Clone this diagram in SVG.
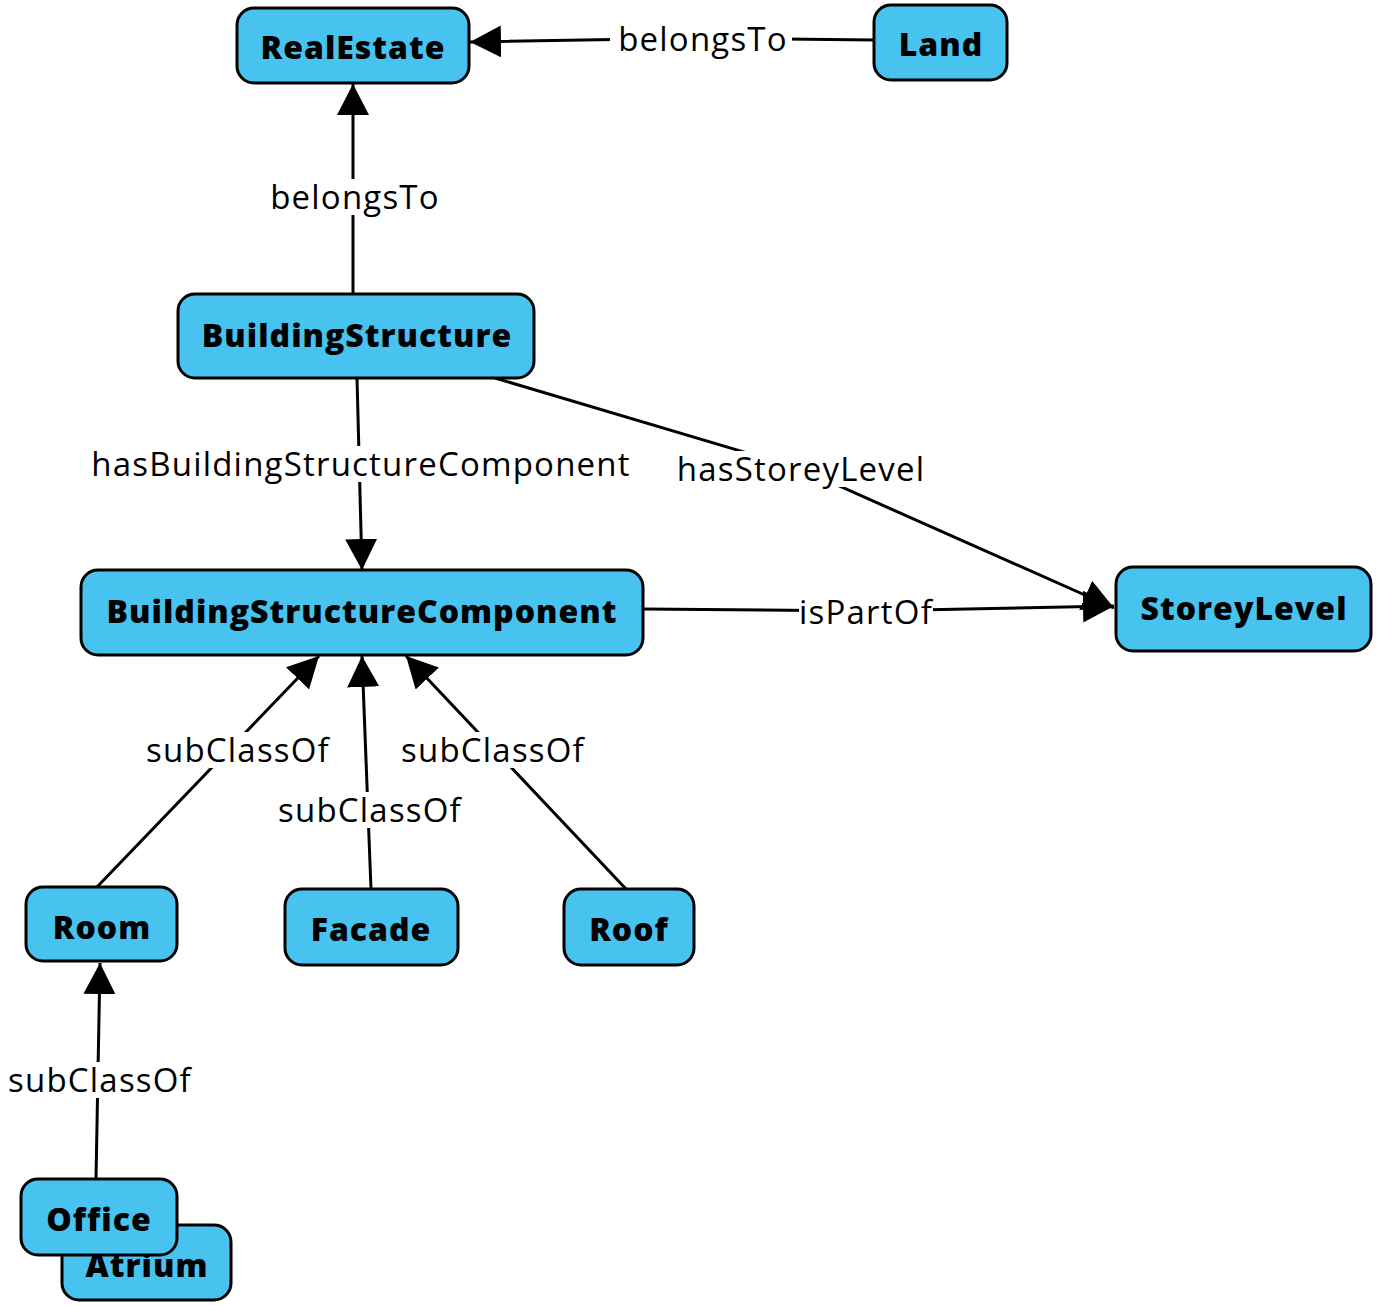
<svg xmlns="http://www.w3.org/2000/svg" width="1379" height="1306" viewBox="0 0 1379 1306">
  <defs>
    <marker id="arrow" markerUnits="userSpaceOnUse" markerWidth="32" markerHeight="34" refX="31" refY="16" orient="auto">
      <path d="M0,0 L31,16 L0,32 Z" fill="#000"/>
    </marker>
    <style>
      .node rect { fill: #48c3f0; stroke: #000; stroke-width: 3; }
      .node text { font-family: "Open Sans", "Noto Sans", "Liberation Sans", sans-serif; font-weight: 800; font-size: 32px; letter-spacing: 1px; fill: #000; text-anchor: middle; dominant-baseline: central; }
      .edge line, .edge polyline { fill: none; stroke: #000; stroke-width: 3; marker-end: url(#arrow); }
      .lbl rect { fill: #fff; }
      .lbl text { font-family: "Open Sans", "Noto Sans", "Liberation Sans", sans-serif; font-size: 33px; letter-spacing: 1.2px; fill: #000; text-anchor: middle; dominant-baseline: central; }
    </style>
  </defs>
  <rect width="1379" height="1306" fill="#fff"/>

  <!-- connectors -->
  <g id="connectors">
    <g class="edge">
      <polyline points="874,40 703,38 470,42"/>
      <line x1="353" y1="294" x2="353" y2="84"/>
      <line x1="357" y1="378" x2="362" y2="570"/>
      <polyline points="495,378 801,469 1114,608"/>
      <polyline points="643,609 866,611 1114,606"/>
      <line x1="97" y1="887" x2="319" y2="656"/>
      <line x1="371" y1="889" x2="362" y2="656"/>
      <line x1="626" y1="889" x2="406" y2="656"/>
      <line x1="96" y1="1179" x2="100" y2="963"/>
    </g>
    <g class="lbl">
      <rect x="610" y="21" width="182" height="36"/>
      <text x="703" y="38">belongsTo</text>
      <rect x="265" y="179" width="180" height="36"/>
      <text x="355" y="196">belongsTo</text>
      <rect x="90" y="446" width="543" height="36"/>
      <text x="361" y="463">hasBuildingStructureComponent</text>
      <rect x="677" y="451" width="248" height="36"/>
      <text x="801" y="468">hasStoreyLevel</text>
      <rect x="799" y="594" width="134" height="36"/>
      <text x="866" y="611">isPartOf</text>
      <rect x="143" y="732" width="190" height="36"/>
      <text x="238" y="749">subClassOf</text>
      <rect x="275" y="792" width="190" height="36"/>
      <text x="370" y="809">subClassOf</text>
      <rect x="398" y="732" width="190" height="36"/>
      <text x="493" y="749">subClassOf</text>
      <rect x="5" y="1062" width="190" height="36"/>
      <text x="100" y="1079">subClassOf</text>
    </g>
  </g>

  <!-- nodes -->
  <g id="node-RealEstate" class="node">
    <rect x="237" y="8" width="232" height="75" rx="17"/>
    <text x="353" y="46">RealEstate</text>
  </g>
  <g id="node-Land" class="node">
    <rect x="874" y="5" width="133" height="75" rx="17"/>
    <text x="941" y="43">Land</text>
  </g>
  <g id="node-BuildingStructure" class="node">
    <rect x="178" y="294" width="356" height="84" rx="17"/>
    <text x="357" y="334">BuildingStructure</text>
  </g>
  <g id="node-BuildingStructureComponent" class="node">
    <rect x="81" y="570" width="562" height="85" rx="17"/>
    <text x="362" y="610">BuildingStructureComponent</text>
  </g>
  <g id="node-StoreyLevel" class="node">
    <rect x="1116" y="567" width="255" height="84" rx="17"/>
    <text x="1244" y="607">StoreyLevel</text>
  </g>
  <g id="node-Room" class="node">
    <rect x="26" y="887" width="151" height="74" rx="17"/>
    <text x="102" y="926">Room</text>
  </g>
  <g id="node-Facade" class="node">
    <rect x="285" y="889" width="173" height="76" rx="17"/>
    <text x="371" y="928">Facade</text>
  </g>
  <g id="node-Roof" class="node">
    <rect x="564" y="889" width="130" height="76" rx="17"/>
    <text x="629" y="928">Roof</text>
  </g>
  <g id="node-Atrium" class="node">
    <rect x="62" y="1225" width="169" height="75" rx="17"/>
    <text x="147" y="1264">Atrium</text>
  </g>
  <g id="node-Office" class="node">
    <rect x="21" y="1179" width="156" height="76" rx="17"/>
    <text x="99" y="1218">Office</text>
  </g>
</svg>
